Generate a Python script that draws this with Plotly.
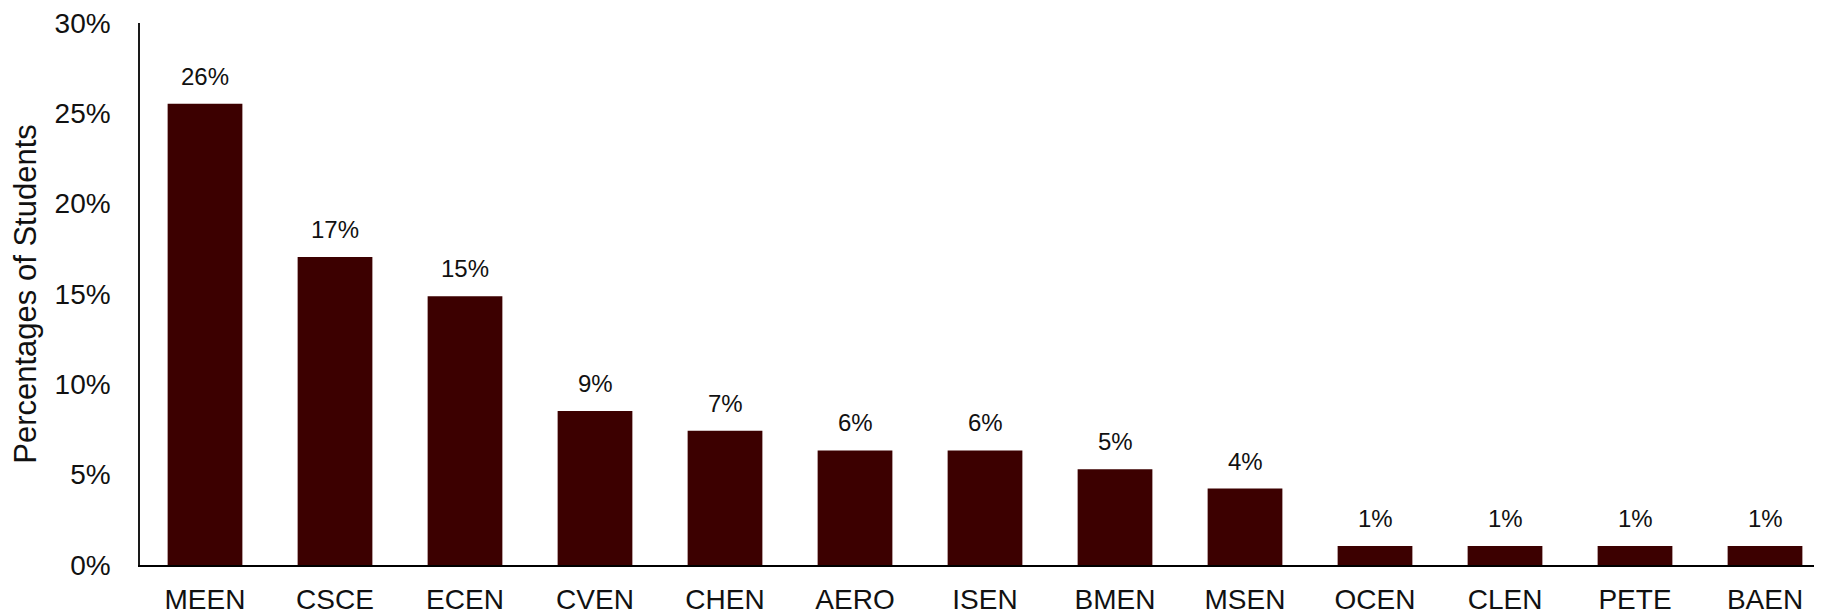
import plotly.graph_objects as go

departments = ["MEEN", "CSCE", "ECEN", "CVEN", "CHEN", "AERO", "ISEN",
               "BMEN", "MSEN", "OCEN", "CLEN", "PETE", "BAEN"]
share = [0.2553, 0.1705, 0.1487, 0.0853, 0.0743, 0.0634, 0.0634,
         0.0530, 0.0423, 0.0105, 0.0105, 0.0105, 0.0105]
y_ticks = [0, 0.05, 0.10, 0.15, 0.20, 0.25, 0.30]
y_tick_text = ["0%", "5%", "10%", "15%", "20%", "25%", "30%"]

MAROON = "#3c0000"
FONT = "Liberation Sans, Arial, sans-serif"
TICK_FONT = dict(family=FONT, size=28, color="#111111")

fig = go.Figure()
fig.add_trace(
    go.Bar(
        x=departments,
        y=share,
        marker=dict(color=MAROON, line=dict(width=0)),
        hoverinfo="x+y",
        showlegend=False,
    )
)

# value labels above each bar
for dep, val in zip(departments, share):
    fig.add_annotation(
        x=dep,
        y=val,
        text=f"{val:.0%}",
        showarrow=False,
        yanchor="bottom",
        yshift=12,
        font=dict(family=FONT, size=24, color="#111111"),
    )

fig.update_layout(
    width=1822,
    height=616,
    margin=dict(l=132, r=0, t=13, b=59),
    paper_bgcolor="white",
    plot_bgcolor="white",
    bargap=0.425,
    font=TICK_FONT,
)
fig.update_xaxes(
    showline=True,
    linecolor="black",
    linewidth=2,
    ticks="",
    showgrid=False,
    tickfont=TICK_FONT,
    ticklabelstandoff=8,
)
fig.update_yaxes(
    range=[0, 0.30],
    tickvals=y_ticks,
    ticktext=y_tick_text,
    ticklabeloverflow="allow",
    showline=True,
    linecolor="#1a1a1a",
    linewidth=1.5,
    ticks="",
    showgrid=False,
    zeroline=False,
    tickfont=TICK_FONT,
    ticklabelstandoff=22,
    title=dict(
        text="Percentages of Students",
        font=dict(family=FONT, size=31, color="#111111"),
    ),
)

fig.write_html("out.html")
